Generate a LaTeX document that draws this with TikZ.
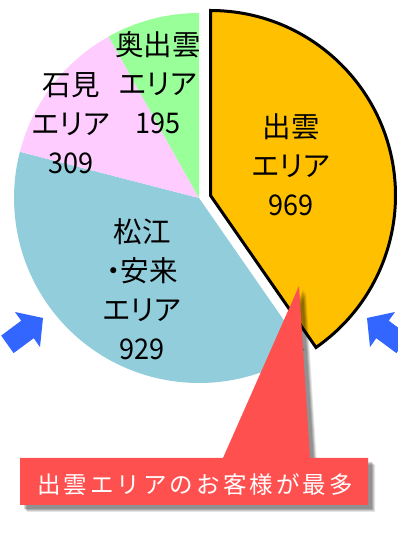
\documentclass[tikz,border=0pt]{standalone}
\usepackage{graphicx}
\usepackage{fontspec}
\setmainfont{Noto Sans CJK JP}
\newfontfamily\jpfont{Noto Sans CJK JP}
\newfontfamily\jplabel[RawFeature=+palt]{Noto Sans CJK JP}
\newcommand\dgt[1]{\scalebox{0.95}[1]{#1}}
\definecolor{izumo}{RGB}{255,192,0}
\definecolor{matsue}{RGB}{146,205,220}
\definecolor{iwami}{RGB}{255,204,255}
\definecolor{oku}{RGB}{153,255,153}
\definecolor{arrowblue}{RGB}{51,102,255}
\definecolor{callred}{RGB}{255,80,80}
\tikzset{
  slicelabel/.style={align=center, text=black, inner sep=0pt,
    font=\jplabel\fontsize{28.5}{39}\selectfont},
  calltext/.style={text=white, inner sep=0pt,
    font=\jpfont\fontsize{23.5}{28}\selectfont\addfontfeature{LetterSpace=13}},
  bluearrow/.style={fill=arrowblue, draw=none},
}
\begin{document}
\begin{tikzpicture}[x=1pt,y=1pt]
\useasboundingbox (0,0) rectangle (398,536);
\clip (0,0) rectangle (398,536);
\fill[white] (0,0) rectangle (398,536);
\coordinate (C0) at (199,338);
\coordinate (C1) at (210.5,340.5);
% slices
\fill[matsue] (C0) -- ++(-55.229:185) arc[start angle=-55.229, end angle=-194.463, radius=185] -- cycle;
\fill[iwami] (C0) -- ++(165.537:185) arc[start angle=165.537, end angle=119.226, radius=185] -- cycle;
\fill[oku] (C0) -- ++(119.226:185) arc[start angle=119.226, end angle=90, radius=185] -- cycle;
\draw[fill=izumo, line width=3pt, line join=miter] (C1) -- ++(90:185) arc[start angle=90, end angle=-55.229, radius=185] -- cycle;
% labels
\node[slicelabel] (lo) at (158,453) {奥出雲\\エリア\\\dgt{195}};
\node[slicelabel] (li) at (71,413) {石見\\エリア\\\dgt{309}};
\node[slicelabel] (lm) at (142,246.5) {松江\\・安来\\エリア\\\dgt{929}};
\node[slicelabel] (lz) at (291,371) {出雲\\エリア\\\dgt{969}};
% arrows
\fill[bluearrow] (43,218) -- (15,224) -- (21.2,215.3) -- (1.2,200.4) -- (13.6,182.9) -- (33.7,197.8) -- (40,189) -- cycle;
\fill[bluearrow] (367,218) -- (395,224) -- (388.8,215.3) -- (408.8,200.4) -- (396.4,182.9) -- (376.3,197.8) -- (370,189) -- cycle;
% callout shadow
\foreach \o/\a in {7/0.10, 6/0.12, 5/0.15, 4/0.15} {
  \fill[black, opacity=\a, shift={(\o,-\o)}] (20,78) -- (223,78) -- (299,250) -- (310,78) -- (368,78) -- (368,31) -- (20,31) -- cycle;
}
% callout
\fill[callred] (20,78) -- (223,78) -- (299,250) -- (310,78) -- (368,78) -- (368,31) -- (20,31) -- cycle;
\node[calltext] (ct) at (195,51) {出雲エリアのお客様が最多};
\end{tikzpicture}
\end{document}
